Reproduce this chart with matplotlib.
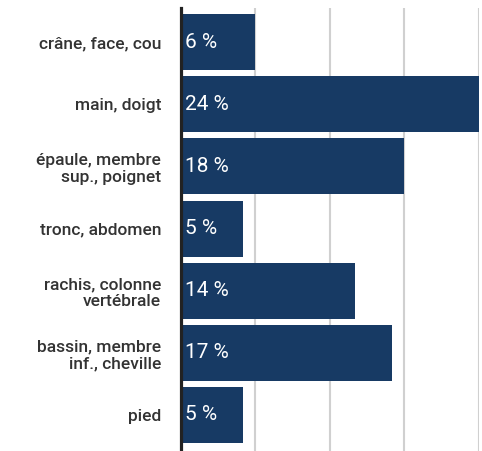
import matplotlib.pyplot as plt
import numpy as np

categories = ["crâne, face, cou", "main, doigt", "épaule, membre\nsup., poignet",
              "tronc, abdomen", "rachis, colonne\nvertébrale",
              "bassin, membre\ninf., cheville", "pied"]
values = [6, 24, 18, 5, 14, 17, 5]
grid_ticks = [6, 12, 18, 24]

plt.rcParams['font.family'] = ['Roboto', 'DejaVu Sans']

fig = plt.figure(figsize=(4.82, 4.51), dpi=100)
ax = fig.add_axes([180.5 / 482, 0, (479 - 180.5) / 482, 1 - 8 / 451])

y = np.arange(len(categories))
ax.barh(y, values, height=0.9, color="#173a64", zorder=2)

for yi, v in zip(y, values):
    ax.text(0.4, yi, f"{v} %", color="white", va="center", ha="left",
            fontsize=15, fontweight="normal", zorder=3)

ax.set_xlim(0, 24)
ax.set_ylim(len(categories) - 0.42, -0.55)
ax.set_yticks(y)
ax.set_yticklabels(categories, fontsize=12.5, fontweight="medium",
                   color="#333333", linespacing=1.15)
ax.tick_params(axis="y", length=0, pad=14)
ax.set_xticks(grid_ticks)
ax.tick_params(axis="x", length=0, labelbottom=False)
ax.grid(axis="x", color="#d0d0d0", linewidth=1.5, zorder=0)

for s in ["top", "right", "bottom"]:
    ax.spines[s].set_visible(False)
ax.spines["left"].set_linewidth(2.3)
ax.spines["left"].set_color("#222222")
ax.spines["left"].set_zorder(4)

fig.savefig("out.png", dpi=100)
